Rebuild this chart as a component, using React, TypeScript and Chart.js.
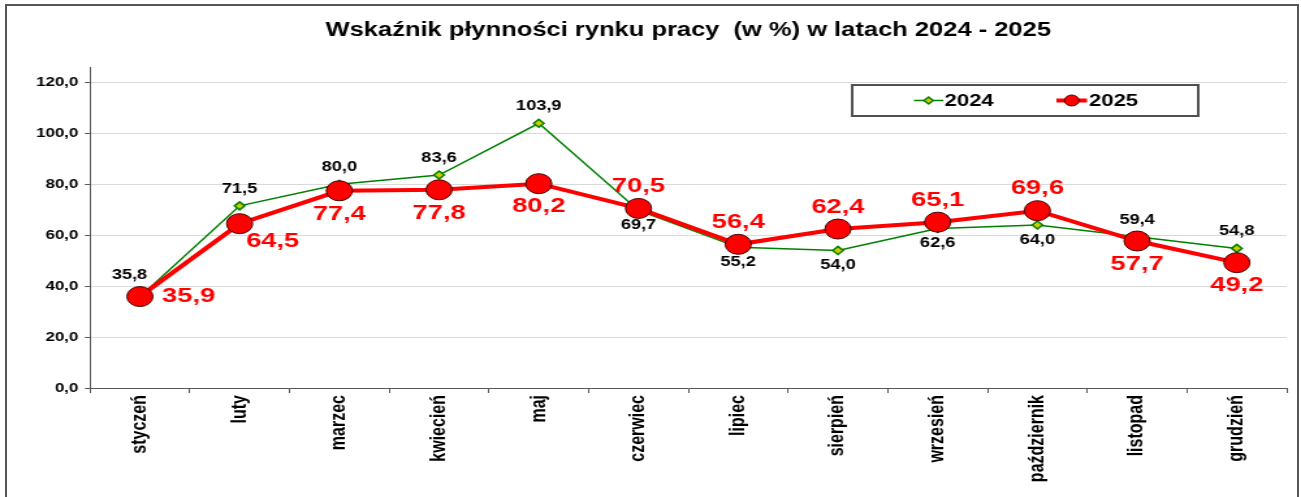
import React, { useEffect, useRef } from 'react';
import { Chart, registerables } from 'chart.js';

Chart.register(...registerables);

const months = ['styczeń', 'luty', 'marzec', 'kwiecień', 'maj', 'czerwiec', 'lipiec', 'sierpień', 'wrzesień', 'październik', 'listopad', 'grudzień'];
const values2024 = [35.8, 71.5, 80.0, 83.6, 103.9, 69.7, 55.2, 54.0, 62.6, 64.0, 59.4, 54.8];
const values2025 = [35.9, 64.5, 77.4, 77.8, 80.2, 70.5, 56.4, 62.4, 65.1, 69.6, 57.7, 49.2];
const yTicks = [0, 20, 40, 60, 80, 100, 120];
const seriesNames = ['2024', '2025'];
const titleText = 'Wskaźnik płynności rynku pracy  (w %) w latach 2024 - 2025';
// label placement: a = above, b = below, al = above-left, r = right, br = below-right
const labelPos2024 = ['al', 'a', 'a', 'a', 'a', 'b', 'b', 'b', 'b', 'b', 'a', 'a'];
const labelPos2025 = ['r', 'br', 'b', 'b', 'b', 'a', 'a', 'a', 'a', 'a', 'b', 'b'];

const FONT = "'Liberation Sans', Arial, sans-serif";
const fmt = (v: number) => v.toFixed(1).replace('.', ',');

const GREEN = '#008000';
const DIAMOND = '#cccc00';
const RED = '#ff0000';
const AXIS = '#595959';

const decorPlugin = {
  id: 'decor',
  afterDatasetsDraw(chart: any) {
    const ctx = chart.ctx;
    const specs: any[] = [
      {
        pos: labelPos2024,
        font: `bold 14px ${FONT}`,
        color: '#000000',
        off: { a: [0, -17, 'center'], b: [0, 15, 'center'], al: [-8, -22, 'center'] },
      },
      {
        pos: labelPos2025,
        font: `bold 21px ${FONT}`,
        color: RED,
        off: { a: [0, -22, 'center'], b: [0, 23, 'center'], r: [17, 0, 'left'], br: [5, 18, 'left'] },
      },
    ];
    chart.data.datasets.forEach((ds: any, i: number) => {
      const meta = chart.getDatasetMeta(i);
      const s = specs[i];
      ctx.save();
      ctx.font = s.font;
      ctx.fillStyle = s.color;
      ctx.textBaseline = 'middle';
      meta.data.forEach((pt: any, j: number) => {
        const o = s.off[s.pos[j]];
        ctx.textAlign = o[2];
        ctx.fillText(fmt(ds.data[j]), pt.x + o[0], pt.y + o[1]);
      });
      ctx.restore();
    });
  },
  afterDraw(chart: any) {
    const ctx = chart.ctx;
    ctx.save();
    // title
    ctx.font = `bold 19.6px ${FONT}`;
    ctx.fillStyle = '#000';
    ctx.textAlign = 'center';
    ctx.textBaseline = 'middle';
    ctx.fillText(titleText, 529, 31);

    // legend box
    ctx.lineWidth = 2;
    ctx.strokeStyle = '#505050';
    ctx.strokeRect(655, 85, 266, 31);
    const ly = 100.5;
    // 2024 sample
    ctx.beginPath();
    ctx.strokeStyle = GREEN;
    ctx.lineWidth = 1.5;
    ctx.moveTo(702.5, ly);
    ctx.lineTo(725, ly);
    ctx.stroke();
    const cx1 = 713.75;
    ctx.beginPath();
    ctx.moveTo(cx1 - 3.5, ly);
    ctx.lineTo(cx1, ly - 3.5);
    ctx.lineTo(cx1 + 3.5, ly);
    ctx.lineTo(cx1, ly + 3.5);
    ctx.closePath();
    ctx.fillStyle = DIAMOND;
    ctx.fill();
    ctx.stroke();
    // 2025 sample
    ctx.beginPath();
    ctx.strokeStyle = RED;
    ctx.lineWidth = 4;
    ctx.moveTo(812, ly);
    ctx.lineTo(835.5, ly);
    ctx.stroke();
    ctx.beginPath();
    ctx.arc(823.75, ly, 5.5, 0, Math.PI * 2);
    ctx.fillStyle = RED;
    ctx.fill();
    ctx.lineWidth = 1;
    ctx.strokeStyle = '#400000';
    ctx.stroke();
    // legend text
    ctx.font = `bold 17px ${FONT}`;
    ctx.fillStyle = '#000';
    ctx.textAlign = 'left';
    ctx.fillText(seriesNames[0], 726, ly + 1);
    ctx.fillText(seriesNames[1], 837, ly + 1);
    ctx.restore();
  },
};

export default function App() {
  const ref = useRef<HTMLCanvasElement | null>(null);

  useEffect(() => {
    if (!ref.current) return;
    const chart = new Chart(ref.current, {
      type: 'line',
      data: {
        labels: months,
        datasets: [
          {
            label: seriesNames[0],
            data: values2024,
            borderColor: GREEN,
            borderWidth: 1.5,
            backgroundColor: DIAMOND,
            pointStyle: 'rectRot',
            pointRadius: 4,
            pointHoverRadius: 4,
            pointBorderColor: GREEN,
            pointBorderWidth: 1.5,
            pointBackgroundColor: DIAMOND,
            tension: 0,
            order: 1,
          },
          {
            label: seriesNames[1],
            data: values2025,
            borderColor: RED,
            borderWidth: 4,
            backgroundColor: RED,
            pointStyle: 'circle',
            pointRadius: 10,
            pointHoverRadius: 10,
            pointBorderColor: '#400000',
            pointBorderWidth: 1,
            pointBackgroundColor: RED,
            tension: 0,
            order: 0,
          },
        ],
      },
      options: {
        animation: false,
        responsive: false,
        maintainAspectRatio: false,
        devicePixelRatio: 1,
        layout: { padding: { top: 67, right: 3, left: 0, bottom: 0 } },
        plugins: {
          legend: { display: false },
          title: { display: false },
          tooltip: { enabled: false },
        },
        events: [],
        scales: {
          x: {
            type: 'category',
            offset: true,
            grid: {
              offset: true,
              drawOnChartArea: false,
              drawTicks: true,
              tickLength: 5,
              tickColor: AXIS,
              color: AXIS,
            },
            border: { color: AXIS, width: 1 },
            ticks: {
              autoSkip: false,
              minRotation: 90,
              maxRotation: 90,
              padding: 2,
              color: '#000',
              font: { family: FONT, size: 16, weight: 'bold' },
            },
            afterFit: (scale: any) => {
              scale.height = 109;
            },
          },
          y: {
            min: 0,
            max: 126,
            afterBuildTicks: (scale: any) => {
              scale.ticks = yTicks.map((v) => ({ value: v }));
            },
            grid: {
              color: '#d9d9d9',
              lineWidth: 1,
              tickColor: AXIS,
              tickLength: 4,
            },
            border: { color: AXIS, width: 1 },
            ticks: {
              padding: 5,
              color: '#000',
              font: { family: FONT, size: 13, weight: 'bold' },
              callback: (v: any) => fmt(Number(v)),
            },
            afterFit: (scale: any) => {
              scale.width = 69.2;
            },
          },
        },
      } as any,
      plugins: [decorPlugin as any],
    });
    return () => chart.destroy();
  }, []);

  return (
    <div style={{ position: 'fixed', left: 0, top: 0, width: 1301, height: 497, background: '#fff', overflow: 'hidden' }}>
      <canvas
        ref={ref}
        width={1000}
        height={497}
        style={{ position: 'absolute', left: 0, top: 0, width: '1301px', height: '497px', display: 'block' }}
      />
      <div
        style={{
          position: 'absolute',
          left: 5,
          top: 4,
          width: 1294,
          height: 520,
          boxSizing: 'border-box',
          border: '2px solid #555',
          pointerEvents: 'none',
        }}
      />
    </div>
  );
}
